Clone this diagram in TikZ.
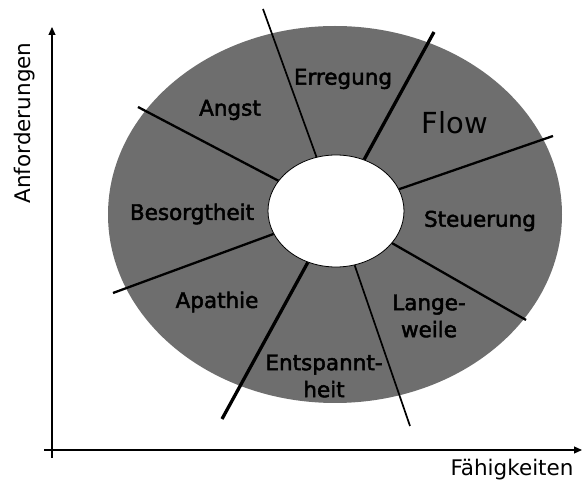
\documentclass[tikz,border=0pt]{standalone}
\usepackage{fontspec}
\setmainfont{DejaVu Sans}
\newfontfamily\segfont[FakeBold=2.2]{DejaVu Sans}
\usetikzlibrary{arrows.meta,shapes.geometric}
\definecolor{ringgray}{RGB}{110,110,110}
\begin{document}
\begin{tikzpicture}[x=1pt,y=-1pt,
  seglbl/.style={font=\segfont\fontsize{21.5}{27}\selectfont, align=center, inner sep=0pt},
  flowlbl/.style={font=\fontsize{29}{32}\selectfont, inner sep=0pt},
  axislbl/.style={font=\fontsize{21.5}{26}\selectfont, inner sep=0pt},
  axisline/.style={line width=1.1pt, -{Triangle[length=8pt,width=7pt]}},
  thinsep/.style={line width=1.7pt},
  midsep/.style={line width=2.3pt},
  thicksep/.style={line width=3.3pt}]
\useasboundingbox (0,0) rectangle (582,486);
% ring
\fill[ringgray] (335,214.5) ellipse [x radius=227, y radius=188.5];
\node[ellipse, draw, fill=white, minimum width=136pt, minimum height=112pt, inner sep=0pt, line width=0.8pt] (hub) at (336,211) {};
% separator ends
\coordinate (e1) at (263,9);
\coordinate (e2) at (434,32);
\coordinate (e3) at (553,136);
\coordinate (e4) at (526,320);
\coordinate (e5) at (410,426);
\coordinate (e6) at (222,419);
\coordinate (e7) at (113,293);
\coordinate (e8) at (138,107);
\draw[thinsep] (hub) -- (e1);
\draw[thicksep] (hub) -- (e2);
\draw[midsep] (hub) -- (e3);
\draw[midsep] (hub) -- (e4);
\draw[thinsep] (hub) -- (e5);
\draw[thicksep] (hub) -- (e6);
\draw[midsep] (hub) -- (e7);
\draw[midsep] (hub) -- (e8);
% labels
\node[seglbl] (erregung) at (343,79) {Erregung};
\node[flowlbl] (flow) at (455,123) {Flow};
\node[seglbl] (angst) at (230,110) {Angst};
\node[seglbl] (besorgt) at (192,214) {Besorgtheit};
\node[seglbl] (steuer) at (480,221) {Steuerung};
\node[seglbl] (apathie) at (217,302) {Apathie};
\node[seglbl] (lange) at (429,316) {Lange-\\weile};
\node[seglbl] (entsp) at (324,376) {Entspannt-\\heit};
% axes
\coordinate (yb) at (52,458);
\coordinate (yt) at (52,27);
\coordinate (xl) at (44,450);
\coordinate (xr) at (582,450);
\draw[axisline] (yb) -- (yt);
\draw[axisline] (xl) -- (xr);
\node[axislbl, rotate=90] (ylab) at (25,123) {Anforderungen};
\node[axislbl] (xlab) at (512,470) {Fähigkeiten};
\end{tikzpicture}
\end{document}
